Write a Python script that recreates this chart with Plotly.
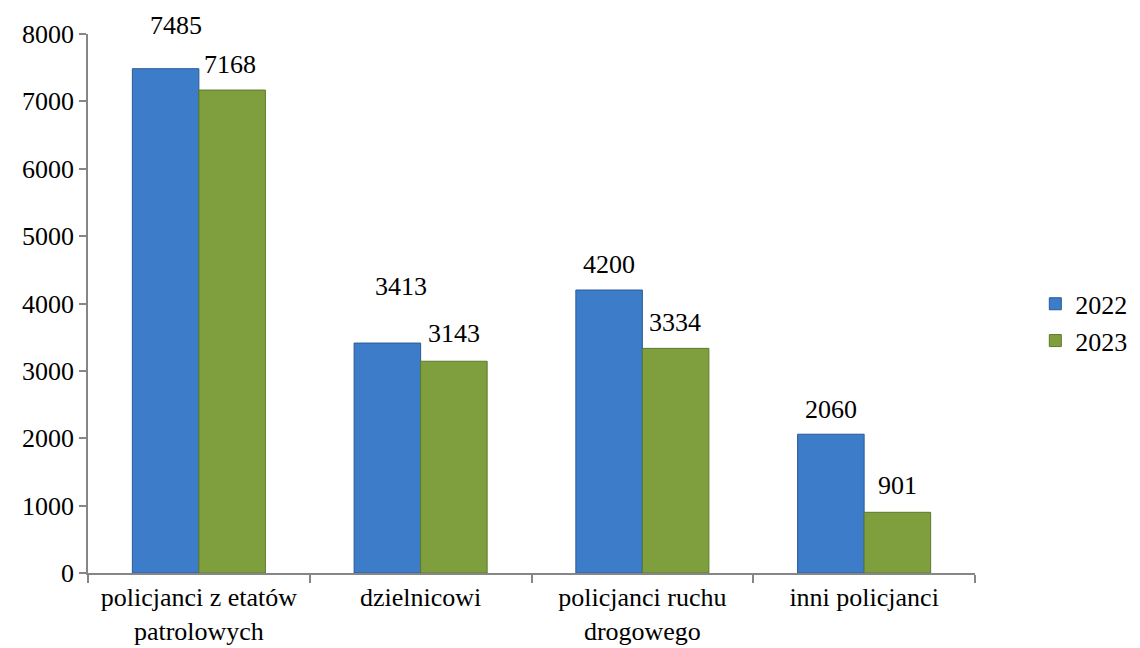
import plotly.graph_objects as go

categories = ["policjanci z etatów<br>patrolowych", "dzielnicowi",
              "policjanci ruchu<br>drogowego", "inni policjanci"]
series_names = ["2022", "2023"]
values_2022 = [7485, 3413, 4200, 2060]
values_2023 = [7168, 3143, 3334, 901]
y_ticks = [0, 1000, 2000, 3000, 4000, 5000, 6000, 7000, 8000]

FONT = "Liberation Serif"
FS = 26
colors = ["#3d7cc9", "#7f9f3f"]
edge = ["#2a5a96", "#5c7a2a"]

fig = go.Figure()
for name, vals, c, e in zip(series_names, [values_2022, values_2023], colors, edge):
    fig.add_trace(go.Bar(x=categories, y=vals, name=name,
                         marker=dict(color=c, line=dict(color=e, width=1))))

# label offsets (pixel) relative to bar top/center
bar_off = [-33, 33]
x_adj = [[10, 13, 0, 0], [-2, 0, 0, 0]]
y_adj = [[43, 57, 26, 25], [26, 28, 26, 27]]
for s, vals in enumerate([values_2022, values_2023]):
    for i, (cat, v) in enumerate(zip(categories, vals)):
        fig.add_annotation(x=cat, y=v, text=str(v), showarrow=False,
                           xshift=bar_off[s] + x_adj[s][i], yshift=y_adj[s][i],
                           yanchor="middle", xanchor="center",
                           font=dict(family=FONT, size=FS, color="#000"))

fig.update_layout(
    width=1124, height=640,
    margin=dict(l=80, r=157, t=26, b=75, autoexpand=False),
    paper_bgcolor="white", plot_bgcolor="white",
    barmode="group", bargap=0.4, bargroupgap=0,
    font=dict(family=FONT, size=FS, color="#000"),
    legend=dict(x=1.068, xanchor="left", y=0.465, yanchor="middle",
                font=dict(family=FONT, size=FS, color="#000"), tracegroupgap=0,
                itemwidth=30),
    showlegend=True,
)
fig.update_xaxes(type="category", showline=True, linecolor="#868686", linewidth=1.5,
                 ticks="outside", tickson="boundaries", ticklen=8,
                 tickcolor="#868686", tickwidth=1.5, showgrid=False, automargin=False,
                 tickfont=dict(family=FONT, size=FS, color="#000"))
fig.update_yaxes(range=[0, 8000], tickvals=y_ticks, showline=True,
                 linecolor="#868686", linewidth=1.5, ticks="outside", ticklen=7,
                 tickcolor="#868686", tickwidth=1.5, showgrid=False, zeroline=False,
                 automargin=False, tickfont=dict(family=FONT, size=FS, color="#000"))

fig.write_html("out.html")
